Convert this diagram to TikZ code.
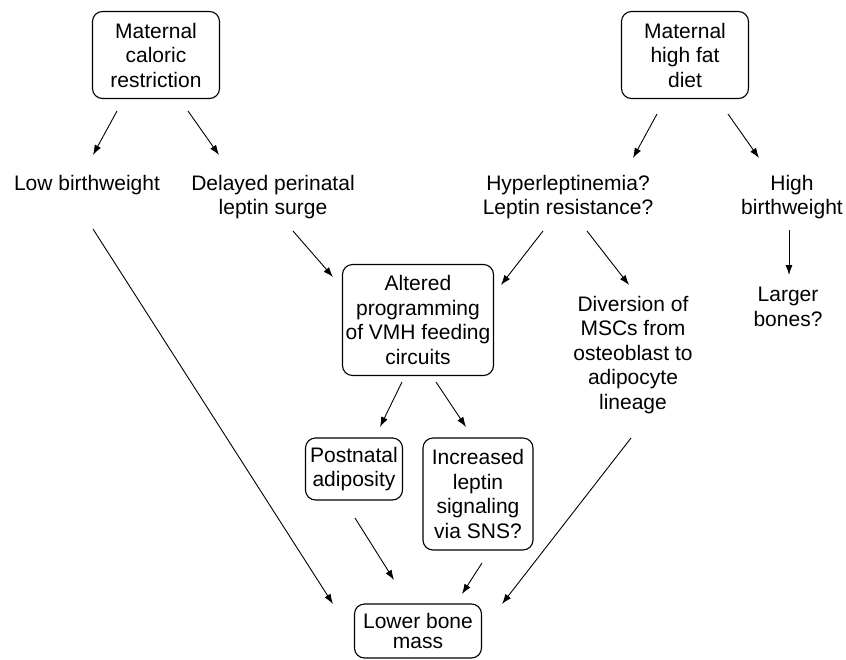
\documentclass[tikz,border=0pt]{standalone}
\usepackage{fontspec}
\setmainfont{Liberation Sans}
\usetikzlibrary{arrows.meta}
\begin{document}
\begin{tikzpicture}[
    x=1pt, y=-1pt,
    box/.style={draw, rounded corners=10pt, line width=1.1pt, align=center,
                inner sep=0pt, font=\fontsize{21}{24.5}\selectfont},
    txt/.style={align=center, inner sep=0pt, font=\fontsize{21}{24.5}\selectfont},
    arr/.style={-{Latex[length=10pt,width=7pt]}, line width=0.9pt}
]
\useasboundingbox (0,0) rectangle (846,659);
\node (caloric) [box, minimum width=127pt, minimum height=87pt] at (156,55) {Maternal\\caloric\\restriction};
\node (highfat) [box, minimum width=127pt, minimum height=87pt] at (685,55) {Maternal\\high fat\\diet};
\node (lowbw) [txt] at (87,185) {Low birthweight};
\node (delayed) [txt] at (273,197) {Delayed perinatal\\leptin surge};
\node (hyper) [txt] at (568,197) {Hyperleptinemia?\\Leptin resistance?};
\node (highbw) [txt] at (792,197) {High\\birthweight};
\node (larger) [txt] at (788,307) {Larger\\bones?};
\node (altered) [box, minimum width=151pt, minimum height=111pt] at (418,320) {Altered\\programming\\of VMH feeding\\circuits};
\node (diversion) [txt] at (633,355) {Diversion of\\MSCs from\\osteoblast to\\adipocyte\\lineage};
\node (postnatal) [box, minimum width=97pt, minimum height=62pt] at (354,469) {Postnatal\\adiposity};
\node (increased) [box, minimum width=110pt, minimum height=112pt] at (478,494) {Increased\\leptin\\signaling\\via SNS?};
\node (lower) [box, minimum width=127pt, minimum height=54pt,
               font=\fontsize{21}{20}\selectfont] at (418,631) {Lower bone\\mass};

\draw [arr] ([shift={(-39,56)}]caloric.center) -- ([shift={(6,-30)}]lowbw.center);
\draw [arr] ([shift={(32,56)}]caloric.center) -- ([shift={(-54,-42)}]delayed.center);
\draw [arr] ([shift={(-28,59)}]highfat.center) -- ([shift={(65,-39)}]hyper.center);
\draw [arr] ([shift={(43,59)}]highfat.center) -- ([shift={(-33,-39)}]highbw.center);
\draw [arr] ([shift={(-3,33)}]highbw.center) -- ([shift={(1,-32)}]larger.center);
\draw [arr] ([shift={(20,34)}]delayed.center) -- ([shift={(-85,-43)}]altered.center);
\draw [arr] ([shift={(-25,34)}]hyper.center) -- ([shift={(83,-35)}]altered.center);
\draw [arr] ([shift={(19,34)}]hyper.center) -- ([shift={(-4,-70)}]diversion.center);
\draw [arr] ([shift={(-16,62)}]altered.center) -- ([shift={(26,-42)}]postnatal.center);
\draw [arr] ([shift={(18,62)}]altered.center) -- ([shift={(-12,-67)}]increased.center);
\draw [arr] ([shift={(1,49)}]postnatal.center) -- ([shift={(-24,-51)}]lower.center);
\draw [arr] ([shift={(4,69)}]increased.center) -- ([shift={(44,-37)}]lower.center);
\draw [arr] ([shift={(-2,83)}]diversion.center) -- ([shift={(84,-27)}]lower.center);
\draw [arr] ([shift={(6,44)}]lowbw.center) -- ([shift={(-85,-27)}]lower.center);
\end{tikzpicture}
\end{document}
